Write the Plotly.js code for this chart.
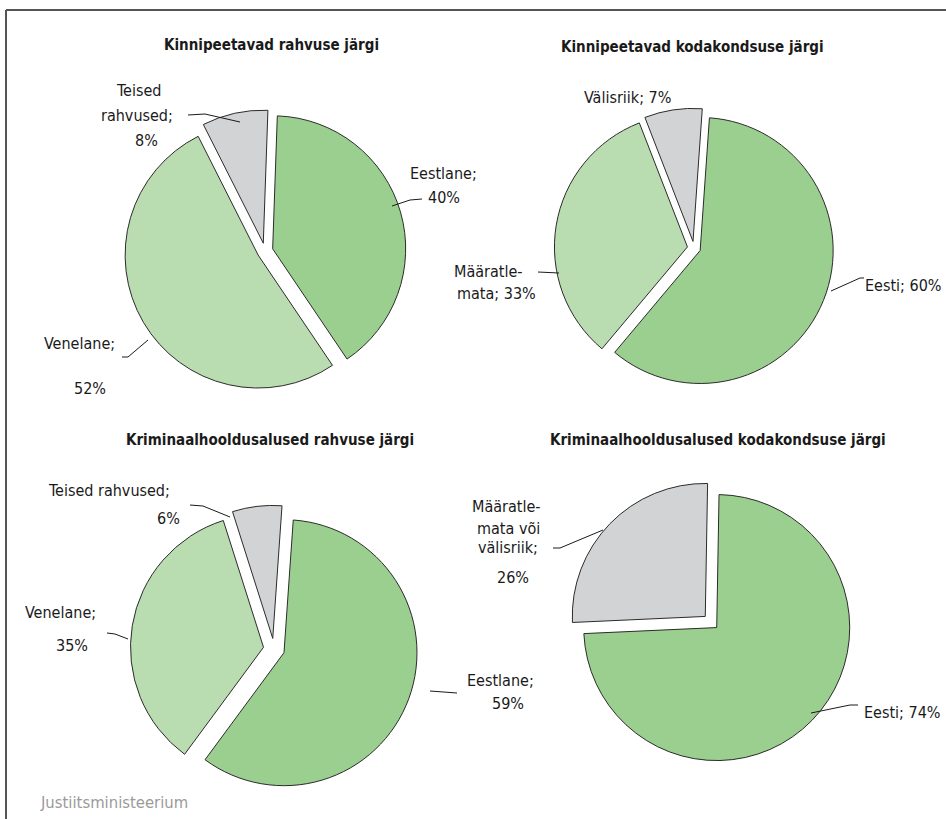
<!DOCTYPE html>
<html>
<head>
<meta charset="utf-8">
<script src="https://cdn.plot.ly/plotly-3.0.1.min.js"></script>
<style>
html,body{margin:0;padding:0;background:#fff;}
#chart{width:946px;height:819px;}
</style>
</head>
<body>
<div id="chart"></div>
<script>
// ---- data ----
const titles = [
  'Kinnipeetavad rahvuse järgi',
  'Kinnipeetavad kodakondsuse järgi',
  'Kriminaalhooldusalused rahvuse järgi',
  'Kriminaalhooldusalused kodakondsuse järgi'
];
const labels1 = ['Eestlane', 'Venelane', 'Teised rahvused'];
const values1 = [40, 52, 8];
const labels2 = ['Eesti', 'Määratlemata', 'Välisriik'];
const values2 = [60, 33, 7];
const labels3 = ['Eestlane', 'Venelane', 'Teised rahvused'];
const values3 = [59, 35, 6];
const labels4 = ['Eesti', 'Määratlemata või välisriik'];
const values4 = [74, 26];
// label text lines ({v} = value)
const labelLines1 = [['Eestlane;', '{v}%'], ['Venelane;', '{v}%'], ['Teised', 'rahvused;', '{v}%']];
const labelLines2 = [['Eesti; {v}%'], ['Määratle-', 'mata; {v}%'], ['Välisriik; {v}%']];
const labelLines3 = [['Eestlane;', '{v}%'], ['Venelane;', '{v}%'], ['Teised rahvused;', '{v}%']];
const labelLines4 = [['Eesti; {v}%'], ['Määratle-', 'mata või', 'välisriik;', '{v}%']];
const sourceText = 'Justiitsministeerium';

// ---- styling / layout ----
const W = 946, H = 819;
const FONT = '"DejaVu Sans Condensed", "DejaVu Sans", sans-serif';
const LABEL_SIZE = 16, TITLE_SIZE = 15;
const C_DARK = '#9bcf8f', C_LIGHT = '#b9dcb0', C_GRAY = '#d1d3d4';
const colors1 = [C_DARK, C_LIGHT, C_GRAY];
const colors2 = [C_DARK, C_LIGHT, C_GRAY];
const colors3 = [C_DARK, C_LIGHT, C_GRAY];
const colors4 = [C_DARK, C_GRAY];

// pie geometry (pixel centre, radius, pull, rotation), label text positions, leader-line paths
const pies = [
  {labels: labels1, values: values1, colors: colors1, lines: labelLines1, cx: 265, cy: 251, r: 133, pull: 0.06, rot: 2, title: [271, 45],
   pos: [[[443,173],[444,197]], [[79,343],[90,388]], [[138,90],[137,116],[146,140]]],
   lead: [[[392,206],[410,200],[422,199]], [[148,340],[128,357],[122,357]], [[240,122],[205,114],[188,115]]]},
  {labels: labels2, values: values2, colors: colors2, lines: labelLines2, cx: 694, cy: 248, r: 133, pull: 0.05, rot: 4, title: [692, 47],
   pos: [[[903,285]], [[489,272],[496,293]], [[627,97]]],
   lead: [[[831,291],[860,278],[864,278]], [[559,273],[538,272]], null]},
  {labels: labels3, values: values3, colors: colors3, lines: labelLines3, cx: 274, cy: 649, r: 133, pull: 0.08, rot: 4, title: [270, 440],
   pos: [[[500,680],[508,703]], [[61,612],[72,645]], [[109,490],[168,518]]],
   lead: [[[430,691],[457,693]], [[128,639],[115,634],[107,633]], [[230,517],[203,506],[190,505]]]},
  {labels: labels4, values: values4, colors: colors4, lines: labelLines4, cx: 711, cy: 622, r: 133, pull: 0.06, rot: 1, title: [718, 440],
   pos: [[[902,712]], [[507,506],[508,528],[508,547],[513,577]]],
   lead: [[[811,713],[850,705],[858,705]], [[603,530],[560,548],[553,548]]]}
];

const px = x => x / W;
const py = y => 1 - y / H;

const traces = [];
const annotations = [];
const shapes = [];

pies.forEach((p, i) => {
  const box = 2 * p.r * (1 + p.pull);
  traces.push({
    type: 'pie',
    values: p.values,
    labels: p.labels,
    sort: false,
    direction: 'clockwise',
    rotation: p.rot,
    pull: p.values.map(() => p.pull),
    marker: {colors: p.colors, line: {color: '#2b2b2b', width: 1}},
    textinfo: 'none',
    hoverinfo: 'label+percent',
    showlegend: false,
    domain: {x: [px(p.cx - box / 2), px(p.cx + box / 2)], y: [py(p.cy + box / 2), py(p.cy - box / 2)]}
  });
  annotations.push({
    text: '<b>' + titles[i] + '</b>', xref: 'paper', yref: 'paper',
    x: px(p.title[0]), y: py(p.title[1]), xanchor: 'center', yanchor: 'middle',
    showarrow: false, font: {family: FONT, size: TITLE_SIZE, color: '#1a1a1a'}
  });
  p.values.forEach((v, k) => {
    p.lines[k].forEach((ln, j) => {
      const pos = p.pos[k][j];
      annotations.push({
        text: ln.replace('{v}', v), xref: 'paper', yref: 'paper',
        x: px(pos[0]), y: py(pos[1]), xanchor: 'center', yanchor: 'middle',
        showarrow: false, font: {family: FONT, size: LABEL_SIZE, color: '#1a1a1a'}
      });
    });
    const ld = p.lead[k];
    if (ld) {
      shapes.push({
        type: 'path', xref: 'paper', yref: 'paper',
        path: ld.map((q, n) => (n ? 'L ' : 'M ') + px(q[0]) + ',' + py(q[1])).join(' '),
        line: {color: '#1a1a1a', width: 1}
      });
    }
  });
});

annotations.push({
  text: sourceText, xref: 'paper', yref: 'paper', x: px(38), y: py(802),
  xanchor: 'left', yanchor: 'middle', showarrow: false,
  font: {family: FONT, size: 16.5, color: '#9a9a9a'}
});
// frame
shapes.push({type: 'line', xref: 'paper', yref: 'paper', x0: px(6), x1: 1, y0: py(10), y1: py(10), line: {color: '#555', width: 2}});
shapes.push({type: 'line', xref: 'paper', yref: 'paper', x0: px(6), x1: px(6), y0: py(10), y1: 0, line: {color: '#555', width: 2}});

Plotly.newPlot('chart', traces, {
  width: W, height: H,
  margin: {l: 0, r: 0, t: 0, b: 0},
  paper_bgcolor: '#fff',
  annotations: annotations,
  shapes: shapes
}, {staticPlot: true});
</script>
</body>
</html>
